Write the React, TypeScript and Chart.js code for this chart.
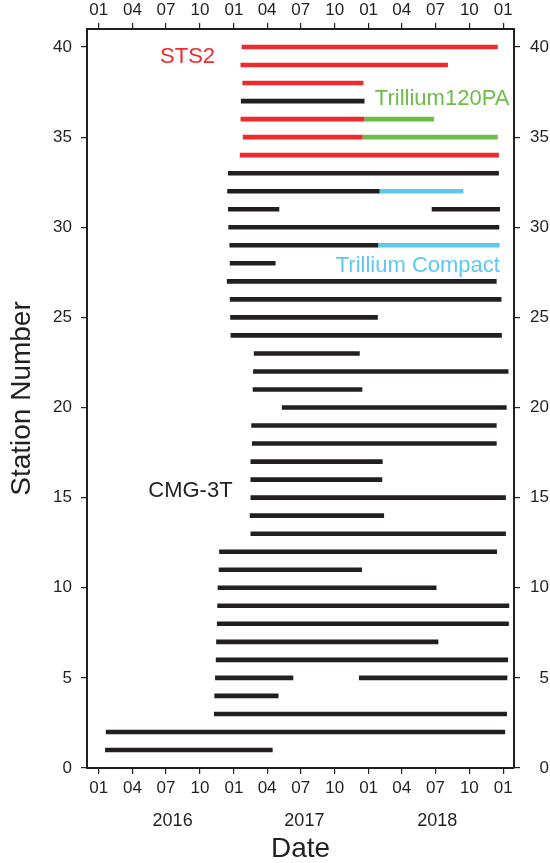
import { useEffect, useRef } from "react";
import { Chart, registerables } from "chart.js";

Chart.register(...registerables);

// ---- Recording periods (station number, start date, end date) ----
// CMG-3T
const cmgStation = [37, 33, 32, 31, 31, 30, 29, 28, 27, 26, 25, 24, 23, 22, 21, 20, 19, 18, 17, 16, 15, 14, 13, 12, 11, 10, 9, 8, 7, 6, 5, 5, 4, 3, 2, 1];
const cmgStart = [
  "2017-01-20", "2016-12-16", "2016-12-14", "2016-12-16", "2018-06-21", "2016-12-17", "2016-12-20", "2016-12-21",
  "2016-12-13", "2016-12-21", "2016-12-22", "2016-12-23", "2017-02-24", "2017-02-22", "2017-02-21", "2017-05-11",
  "2017-02-17", "2017-02-19", "2017-02-15", "2017-02-15", "2017-02-15", "2017-02-13", "2017-02-15", "2016-11-22",
  "2016-11-21", "2016-11-18", "2016-11-17", "2016-11-16", "2016-11-14", "2016-11-13", "2016-11-11", "2017-12-06",
  "2016-11-09", "2016-11-08", "2016-01-20", "2016-01-18",
];
const cmgEnd = [
  "2017-12-21", "2018-12-20", "2018-01-31", "2017-05-04", "2018-12-23", "2018-12-21", "2018-01-27", "2017-04-24",
  "2018-12-14", "2018-12-27", "2018-01-26", "2018-12-28", "2017-12-08", "2019-01-15", "2017-12-15", "2019-01-10",
  "2018-12-14", "2018-12-14", "2018-02-08", "2018-02-07", "2019-01-08", "2018-02-12", "2019-01-08", "2018-12-15",
  "2017-12-14", "2018-07-04", "2019-01-17", "2019-01-16", "2018-07-09", "2019-01-14", "2017-06-11", "2019-01-12",
  "2017-05-02", "2019-01-11", "2019-01-06", "2017-04-16",
];

// STS2
const sts2Station = [40, 39, 38, 36, 35, 34];
const sts2Start = ["2017-01-22", "2017-01-19", "2017-01-24", "2017-01-19", "2017-01-25", "2017-01-17"];
const sts2End = ["2018-12-17", "2018-08-04", "2017-12-18", "2017-12-21", "2017-12-16", "2018-12-20"];

// Trillium120PA
const t120Station = [36, 35];
const t120Start = ["2017-12-21", "2017-12-16"];
const t120End = ["2018-06-27", "2018-12-17"];

// Trillium Compact
const compactStation = [32, 29];
const compactStart = ["2018-01-31", "2018-01-27"];
const compactEnd = ["2018-09-15", "2018-12-22"];

// ---- Axis ticks ----
const monthTickDates = [
  "2016-01-01", "2016-04-01", "2016-07-01", "2016-10-01",
  "2017-01-01", "2017-04-01", "2017-07-01", "2017-10-01",
  "2018-01-01", "2018-04-01", "2018-07-01", "2018-10-01",
  "2019-01-01",
];
const monthTickLabels = ["01", "04", "07", "10", "01", "04", "07", "10", "01", "04", "07", "10", "01"];
const yearLabels = ["2016", "2017", "2018"];
const yearLabelDates = ["2016-07-19", "2017-07-11", "2018-07-06"];
const stationTicks = [0, 5, 10, 15, 20, 25, 30, 35, 40];
const dateMin = "2015-11-30";
const dateMax = "2019-01-30";
const stationMin = 0;
const stationMax = 41;

// Instrument names written inside the plot (left edge of each name)
const instrumentNames = ["STS2", "Trillium120PA", "Trillium Compact", "CMG-3T"];
const instrumentNameDates = ["2016-06-15", "2018-01-18", "2017-10-04", "2016-05-14"];
const instrumentNameStations = [39.44, 37.1, 27.85, 15.39];

const INK = "#231f20";
const RED = "#ee2a2e";
const GREEN = "#6cbd45";
const BLUE = "#5dc9f1";
const FONT = "'Liberation Sans', Arial, Helvetica, sans-serif";
const instrumentColors = [RED, GREEN, BLUE, INK];

const EPOCH = Date.UTC(2016, 0, 1);
const toDay = (iso: string) => {
  const [y, m, d] = iso.split("-").map(Number);
  return (Date.UTC(y, m - 1, d) - EPOCH) / 86400000;
};

function segments(stations: number[], starts: string[], ends: string[], color: string) {
  return stations.map((s, i) => ({
    data: [
      { x: toDay(starts[i]), y: s },
      { x: toDay(ends[i]), y: s },
    ],
    borderColor: color,
    backgroundColor: color,
    borderWidth: 4.6,
    borderCapStyle: "butt" as const,
    pointRadius: 0,
    fill: false,
    xAxisID: "x",
    yAxisID: "y",
  }));
}

const instrumentLabelPlugin = {
  id: "instrumentLabels",
  afterDatasetsDraw(chart: any) {
    const { ctx, scales } = chart;
    ctx.save();
    ctx.font = `22px ${FONT}`;
    ctx.textAlign = "left";
    ctx.textBaseline = "middle";
    instrumentNames.forEach((name, i) => {
      ctx.fillStyle = instrumentColors[i];
      ctx.fillText(
        name,
        scales.x.getPixelForValue(toDay(instrumentNameDates[i])),
        scales.y.getPixelForValue(instrumentNameStations[i])
      );
    });
    ctx.restore();
  },
};

const monthTickValues = monthTickDates.map(toDay);
const yearTickValues = yearLabelDates.map(toDay);

const monthLabel = (v: number) => {
  const i = monthTickValues.indexOf(v);
  return i >= 0 ? monthTickLabels[i] : "";
};
const yearLabel = (v: number) => {
  const i = yearTickValues.indexOf(v);
  return i >= 0 ? yearLabels[i] : "";
};

const tickGrid = {
  display: true,
  drawOnChartArea: false,
  drawTicks: true,
  tickLength: 6,
  color: INK,
  lineWidth: 1.2,
};
const frameBorder = { display: true, color: INK, width: 2 };

export default function App() {
  const canvasRef = useRef<HTMLCanvasElement | null>(null);

  useEffect(() => {
    if (!canvasRef.current) return;
    const datasets = [
      ...segments(cmgStation, cmgStart, cmgEnd, INK),
      ...segments(sts2Station, sts2Start, sts2End, RED),
      ...segments(t120Station, t120Start, t120End, GREEN),
      ...segments(compactStation, compactStart, compactEnd, BLUE),
    ];

    const xMin = toDay(dateMin);
    const xMax = toDay(dateMax);

    const chart = new Chart(canvasRef.current, {
      type: "line",
      data: { datasets },
      plugins: [instrumentLabelPlugin],
      options: {
        animation: false,
        responsive: false,
        maintainAspectRatio: false,
        layout: { padding: { left: 0, right: 1, top: 0, bottom: 0 } },
        plugins: { legend: { display: false }, tooltip: { enabled: false } },
        elements: { line: { tension: 0 } },
        scales: {
          x: {
            type: "linear",
            position: "bottom",
            weight: 0,
            min: xMin,
            max: xMax,
            grid: tickGrid,
            border: frameBorder,
            afterBuildTicks: (s: any) => {
              s.ticks = monthTickValues.map((v) => ({ value: v }));
            },
            afterFit: (s: any) => {
              s.height = 32;
            },
            ticks: {
              autoSkip: false,
              maxRotation: 0,
              padding: 4,
              color: INK,
              font: { family: FONT, size: 17 },
              callback: (v: any) => monthLabel(Number(v)),
            },
          },
          xYears: {
            type: "linear",
            position: "bottom",
            weight: 1,
            min: xMin,
            max: xMax,
            grid: { display: false, drawTicks: false },
            border: { display: false },
            afterBuildTicks: (s: any) => {
              s.ticks = yearTickValues.map((v) => ({ value: v }));
            },
            afterFit: (s: any) => {
              s.height = 63;
            },
            ticks: {
              autoSkip: false,
              maxRotation: 0,
              padding: 10,
              color: INK,
              font: { family: FONT, size: 18 },
              callback: (v: any) => yearLabel(Number(v)),
            },
            title: {
              display: true,
              text: "Date",
              color: INK,
              font: { family: FONT, size: 28, lineHeight: 1 },
              padding: { top: 0, bottom: 0 },
            },
          },
          xTop: {
            type: "linear",
            position: "top",
            min: xMin,
            max: xMax,
            grid: tickGrid,
            border: frameBorder,
            afterBuildTicks: (s: any) => {
              s.ticks = monthTickValues.map((v) => ({ value: v }));
            },
            afterFit: (s: any) => {
              s.height = 29;
            },
            ticks: {
              autoSkip: false,
              maxRotation: 0,
              padding: 2,
              color: INK,
              font: { family: FONT, size: 17 },
              callback: (v: any) => monthLabel(Number(v)),
            },
          },
          y: {
            type: "linear",
            position: "left",
            min: stationMin,
            max: stationMax,
            grid: tickGrid,
            border: frameBorder,
            afterBuildTicks: (s: any) => {
              s.ticks = stationTicks.map((v) => ({ value: v }));
            },
            afterFit: (s: any) => {
              s.width = 87;
            },
            ticks: {
              padding: 9,
              color: INK,
              font: { family: FONT, size: 17 },
            },
            title: {
              display: true,
              text: "Station Number",
              color: INK,
              font: { family: FONT, size: 28, lineHeight: 1 },
              padding: { top: 8, bottom: 0 },
            },
          },
          yRight: {
            type: "linear",
            position: "right",
            min: stationMin,
            max: stationMax,
            grid: tickGrid,
            border: frameBorder,
            afterBuildTicks: (s: any) => {
              s.ticks = stationTicks.map((v) => ({ value: v }));
            },
            afterFit: (s: any) => {
              s.width = 35;
            },
            ticks: {
              padding: 9,
              crossAlign: "far",
              color: INK,
              font: { family: FONT, size: 17 },
            },
          },
        },
      } as any,
    });

    return () => chart.destroy();
  }, []);

  return (
    <div style={{ position: "fixed", left: 0, top: 0, width: 550, height: 863, background: "#fff" }}>
      <canvas ref={canvasRef} width={550} height={863} style={{ display: "block" }} />
    </div>
  );
}
